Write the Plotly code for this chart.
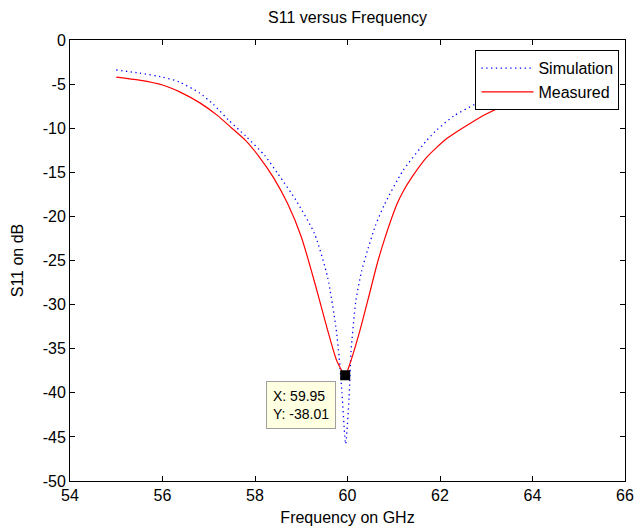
import plotly.graph_objects as go

# Simulation (blue dotted)
sim_freq = [55.0, 55.5, 56.0, 56.36, 56.8, 57.1, 57.43, 57.8, 58.21, 58.5, 58.89, 59.29,
            59.57, 59.75, 59.82, 59.88, 59.96, 60.035, 60.075, 60.18, 60.3, 60.43, 60.6,
            60.79, 61.2, 61.71, 61.93, 62.3, 62.75, 63.2, 63.6, 64.0, 64.5, 65.0]
sim_db = [-3.4, -3.75, -4.2, -4.75, -6.0, -7.3, -9.09, -10.9, -13.1, -15.2, -18.2, -22.0,
          -26.9, -32.6, -36.0, -40.0, -45.8, -40.5, -35.4, -29.6, -26.3, -23.9, -21.1,
          -18.75, -14.8, -11.4, -10.2, -8.6, -7.3, -6.2, -5.4, -4.8, -4.2, -3.7]

# Measured (red solid)
meas_freq = [55.0, 55.5, 56.0, 56.36, 56.8, 57.2, 57.5, 57.8, 58.07, 58.4, 58.71, 59.0,
             59.2, 59.4, 59.57, 59.77, 59.95, 60.04, 60.25, 60.45, 60.64, 60.8, 61.07,
             61.2, 61.4, 61.71, 62.14, 62.64, 63.0, 63.36, 63.8, 64.2, 64.6, 65.0]
meas_db = [-4.2, -4.55, -5.1, -5.85, -7.1, -8.6, -10.0, -11.4, -13.1, -15.6, -18.6, -22.3,
           -25.8, -29.6, -32.9, -36.4, -38.01, -36.9, -33.3, -29.3, -25.4, -22.6, -18.6,
           -17.2, -15.5, -13.3, -11.2, -9.5, -8.4, -7.5, -6.6, -5.9, -5.4, -5.0]

tip_x = 59.95
tip_y = -38.01

x_ticks = [54, 56, 58, 60, 62, 64, 66]
y_ticks = [0, -5, -10, -15, -20, -25, -30, -35, -40, -45, -50]

FONT = "Liberation Sans, Arial, sans-serif"

fig = go.Figure()
fig.add_trace(go.Scatter(x=sim_freq, y=sim_db, mode="lines", name="Simulation",
                         line=dict(color="#0000ff", width=1.3, dash="1.3px,3.5px",
                                   shape="spline", smoothing=0.6)))
fig.add_trace(go.Scatter(x=meas_freq, y=meas_db, mode="lines", name="Measured",
                         line=dict(color="#ff0000", width=1.2,
                                   shape="spline", smoothing=0.6)))
fig.add_trace(go.Scatter(x=[tip_x], y=[tip_y], mode="markers", showlegend=False,
                         marker=dict(symbol="square", size=10, color="black",
                                     line=dict(width=0))))

fig.add_annotation(x=tip_x, y=tip_y, xref="x", yref="y",
                   text=f"X: {tip_x:.2f}<br>Y: {tip_y:.2f}", showarrow=False,
                   xanchor="right", yanchor="top", xshift=-9, yshift=-6,
                   align="left", font=dict(family=FONT, size=14, color="black"),
                   bgcolor="#ffffe1", bordercolor="#a0a0a0", borderwidth=1, borderpad=6)

axis_common = dict(showline=True, linecolor="black", linewidth=1, mirror="ticks",
                   ticks="inside", ticklen=5, tickcolor="black", showgrid=False,
                   zeroline=False, ticklabeloverflow="allow", automargin=False,
                   tickfont=dict(family=FONT, size=16, color="black"))

fig.update_layout(
    width=636, height=527,
    margin=dict(l=70, r=11, t=40, b=46),
    paper_bgcolor="white", plot_bgcolor="white",
    title=dict(text="S11 versus Frequency", x=0.5, xref="paper", xanchor="center",
               y=1, yref="container", yanchor="top", pad=dict(t=12),
               font=dict(family=FONT, size=16, color="black")),
    xaxis=dict(range=[54, 66], tickvals=x_ticks, ticktext=[str(v) for v in x_ticks],
               title=dict(text="Frequency on GHz", standoff=8,
                          font=dict(family=FONT, size=16, color="black")),
               **axis_common),
    yaxis=dict(range=[-50, 0], tickvals=y_ticks, ticktext=[str(v) for v in y_ticks],
               title=dict(text="S11 on dB", standoff=15,
                          font=dict(family=FONT, size=16, color="black")),
               **axis_common),
    legend=dict(x=0.99, y=0.977, xanchor="right", yanchor="top",
                bgcolor="white", bordercolor="black", borderwidth=1,
                font=dict(family=FONT, size=16, color="black"),
                itemwidth=52, tracegroupgap=0),
    showlegend=True,
)

fig.write_html("out.html")
